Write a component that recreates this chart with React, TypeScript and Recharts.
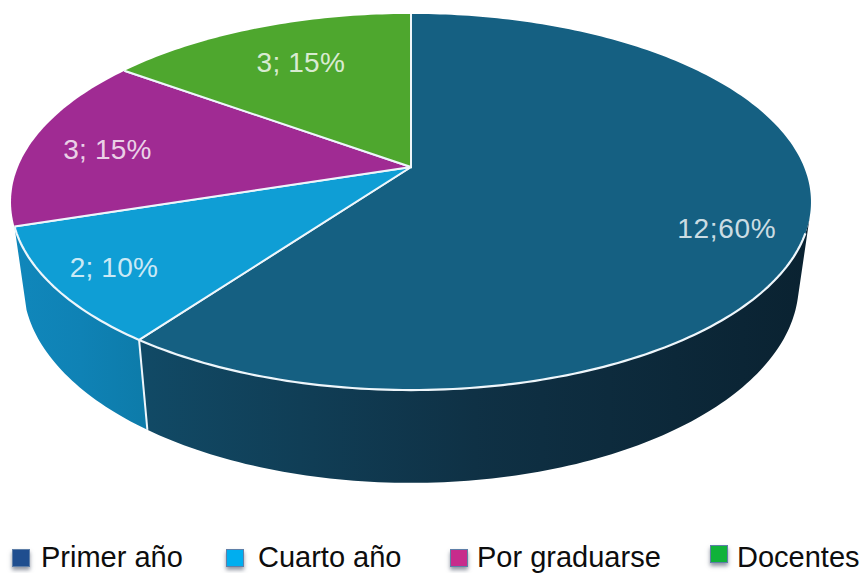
import { Legend, Pie, PieChart } from "recharts";

const categories = ["Primer año", "Cuarto año", "Por graduarse", "Docentes"];
const counts = [12, 2, 3, 3];
const separators = [";", "; ", "; ", "; "];
const sliceColors = ["#156082", "#0f9ed5", "#a02b93", "#4ea72e"];
const legendColors = ["#1f4e8f", "#00aeef", "#c72c8c", "#10b23a"];
const wallStops = [
  ["#114a66", "#0f3145", "#0a2231"],
  ["#1087bb", "#0f82b5", "#0d7ba9"],
  ["#7a2070", "#7a2070", "#7a2070"],
  ["#3a7f22", "#3a7f22", "#3a7f22"],
];

const table = categories.map((name, i) => ({
  name,
  value: counts[i],
  fill: sliceColors[i],
}));

// the pie lies tilted, so a circle point goes through a perspective projection
const TILT = 0.186;
const TOP_Y = 0.462; // vertical squash of the top face
const BOTTOM_X = 0.9695; // bottom rim relative to top rim
const BOTTOM_Y = 0.4885;
const BOTTOM_DROP = 80;
const WALL_FROM = 105;
const WALL_TO = 252;
const RIM_FROM = 110;

type Pt = { x: number; y: number };

const topPoint = (cx: number, cy: number, R: number, deg: number, r = 1): Pt => {
  const u = r * Math.sin((deg * Math.PI) / 180);
  const v = r * Math.cos((deg * Math.PI) / 180);
  const w = 1 + TILT * v;
  return { x: cx + (R * u) / w, y: cy - (R * TOP_Y * v) / w };
};

const bottomPoint = (cx: number, cy: number, R: number, deg: number): Pt => {
  const u = Math.sin((deg * Math.PI) / 180);
  const v = Math.cos((deg * Math.PI) / 180);
  const w = 1 + TILT * v;
  return {
    x: cx + (R * BOTTOM_X * u) / w,
    y: cy + BOTTOM_DROP - (R * BOTTOM_Y * v) / w,
  };
};

const arc = (from: number, to: number, at: (deg: number) => Pt): Pt[] => {
  const out: Pt[] = [];
  const steps = Math.max(2, Math.ceil(Math.abs(to - from)));
  for (let i = 0; i <= steps; i++) out.push(at(from + ((to - from) * i) / steps));
  return out;
};

const toPath = (pts: Pt[], close = false) =>
  pts.map((p, i) => `${i ? "L" : "M"}${p.x.toFixed(2)} ${p.y.toFixed(2)}`).join(" ") +
  (close ? " Z" : "");

const SliceShape = (props: any) => {
  const { cx, cy, outerRadius, startAngle, endAngle, fill, index } = props;
  const from = 90 - startAngle;
  const to = 90 - endAngle;
  const top = (d: number) => topPoint(cx, cy, outerRadius, d);
  const bottom = (d: number) => bottomPoint(cx, cy, outerRadius, d);
  const wallA = Math.max(from, WALL_FROM);
  const wallB = Math.min(to, WALL_TO);
  const hasWall = wallB > wallA;
  const rimA = Math.max(from, RIM_FROM);
  const gradId = `wall-${index}`;
  const stops = wallStops[index];
  const center = { x: cx, y: cy };

  return (
    <g>
      {hasWall && (
        <>
          <defs>
            <linearGradient id={gradId} x1="0" y1="0" x2="1" y2="0">
              <stop offset="0%" stopColor={stops[0]} />
              <stop offset="50%" stopColor={stops[1]} />
              <stop offset="100%" stopColor={stops[2]} />
            </linearGradient>
          </defs>
          <path
            d={toPath([...arc(wallA, wallB, top), ...arc(wallB, wallA, bottom)], true)}
            fill={`url(#${gradId})`}
          />
        </>
      )}
      <path d={toPath([center, ...arc(from, to, top)], true)} fill={fill} />
      <path
        d={toPath([top(from), center, top(to)])}
        fill="none"
        stroke="#eef6fb"
        strokeWidth={2}
      />
      {hasWall && (
        <path
          d={toPath(arc(rimA, wallB, top))}
          fill="none"
          stroke="#eef6fb"
          strokeWidth={2.2}
        />
      )}
      {hasWall && from >= WALL_FROM && (
        <path
          d={toPath([top(from), bottom(from)])}
          fill="none"
          stroke="#eef6fb"
          strokeWidth={2}
        />
      )}
    </g>
  );
};

// label spot for each slice: fraction of the radius and a small vertical nudge
const labelRadius = [0.806, 0.848, 0.8, 0.688];
const labelNudge = [14, 1, 5, -5];

const SliceLabel = (props: any) => {
  const { cx, cy, outerRadius, midAngle, index, value, percent } = props;
  const p = topPoint(cx, cy, outerRadius, 90 - midAngle, labelRadius[index]);
  return (
    <text
      x={p.x}
      y={p.y + labelNudge[index]}
      textAnchor="middle"
      dominantBaseline="central"
      fill="#ffffff"
      fillOpacity={0.8}
      fontFamily="'Liberation Sans', Arial, sans-serif"
      fontSize={28}
      letterSpacing={index === 0 ? 0.7 : 0.2}
    >
      {`${value}${separators[index]}${Math.round(percent * 100)}%`}
    </text>
  );
};

const legendSpots = [
  { box: 12, boxTop: 549, text: 41 },
  { box: 226, boxTop: 549, text: 258 },
  { box: 450, boxTop: 549, text: 477 },
  { box: 710, boxTop: 545, text: 737 },
];

const LegendRow = () => (
  <div style={{ position: "relative", width: 861, height: 573 }}>
    {categories.map((name, i) => (
      <div key={name}>
        <span
          style={{
            position: "absolute",
            left: legendSpots[i].box,
            top: legendSpots[i].boxTop,
            width: 16,
            height: 16,
            background: legendColors[i],
            border: "1px solid #5f7fa8",
            boxShadow: "0 3px 4px rgba(70,80,100,0.6)",
          }}
        />
        <span
          style={{
            position: "absolute",
            left: legendSpots[i].text,
            top: 543,
            lineHeight: "29px",
            fontSize: 29,
            color: "#0d0d0d",
            fontFamily: "'Liberation Sans', Arial, sans-serif",
            whiteSpace: "nowrap",
          }}
        >
          {name}
        </span>
      </div>
    ))}
  </div>
);

export default function App() {
  return (
    <div style={{ position: "absolute", left: 0, top: 0, width: 861, height: 573, overflow: "hidden" }}>
      <PieChart width={861} height={573} margin={{ top: 0, right: 0, bottom: 0, left: 0 }}>
        <Pie
          data={table}
          dataKey="value"
          nameKey="name"
          cx={411}
          cy={167}
          outerRadius={393}
          startAngle={90}
          endAngle={-270}
          stroke="none"
          shape={SliceShape}
          label={SliceLabel}
          labelLine={false}
          isAnimationActive={false}
        />
        <Legend
          content={LegendRow}
          wrapperStyle={{ left: 0, top: 0, width: 861, height: 573, pointerEvents: "none" }}
        />
      </PieChart>
    </div>
  );
}
